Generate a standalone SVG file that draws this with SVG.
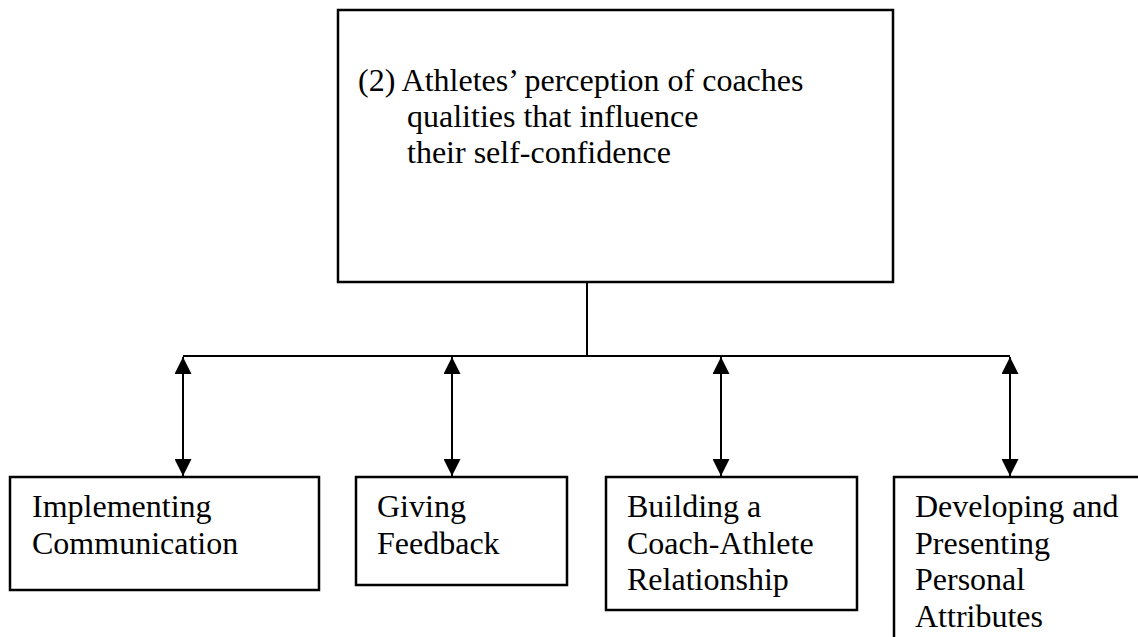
<svg xmlns="http://www.w3.org/2000/svg" width="1138" height="637" viewBox="0 0 1138 637">
<style>
.box{fill:none;stroke:#000;stroke-width:2.5}
.ln{fill:none;stroke:#000;stroke-width:2}
text{font-family:"Liberation Serif","Times New Roman",serif;font-size:32px;fill:#000}
</style>
<defs>
<marker id="ah" viewBox="0 0 17 17" refX="17" refY="8.5" markerWidth="17" markerHeight="17" markerUnits="userSpaceOnUse" orient="auto-start-reverse">
<path d="M0,0 L17,8.5 L0,17 Z" fill="#000"/>
</marker>
</defs>
<rect width="1138" height="637" fill="#fff"/>
<g id="top">
<rect class="box" x="338" y="10" width="555" height="272"/>
<text x="358" y="91">(2) Athletes’ perception of coaches</text>
<text x="407" y="127">qualities that influence</text>
<text x="407" y="163">their self-confidence</text>
</g>
<g id="connectors">
<line class="ln" x1="587" y1="282" x2="587" y2="357"/>
<line class="ln" x1="183" y1="356" x2="1010" y2="356"/>
<line class="ln" x1="183" y1="357" x2="183" y2="476" marker-start="url(#ah)" marker-end="url(#ah)"/>
<line class="ln" x1="452" y1="357" x2="452" y2="476" marker-start="url(#ah)" marker-end="url(#ah)"/>
<line class="ln" x1="721" y1="357" x2="721" y2="476" marker-start="url(#ah)" marker-end="url(#ah)"/>
<line class="ln" x1="1010" y1="357" x2="1010" y2="476" marker-start="url(#ah)" marker-end="url(#ah)"/>
</g>
<g id="n1">
<rect class="box" x="10" y="477" width="309" height="113"/>
<text x="32" y="517">Implementing</text>
<text x="32" y="554">Communication</text>
</g>
<g id="n2">
<rect class="box" x="356" y="477" width="211" height="108"/>
<text x="377" y="517">Giving</text>
<text x="377" y="554">Feedback</text>
</g>
<g id="n3">
<rect class="box" x="606" y="477" width="251" height="133"/>
<text x="627" y="517">Building a</text>
<text x="627" y="554">Coach-Athlete</text>
<text x="627" y="590">Relationship</text>
</g>
<g id="n4">
<path class="box" d="M894,637 L894,477 L1140,477"/>
<text x="915" y="517">Developing and</text>
<text x="915" y="554">Presenting</text>
<text x="915" y="590">Personal</text>
<text x="915" y="627">Attributes</text>
</g>
</svg>
